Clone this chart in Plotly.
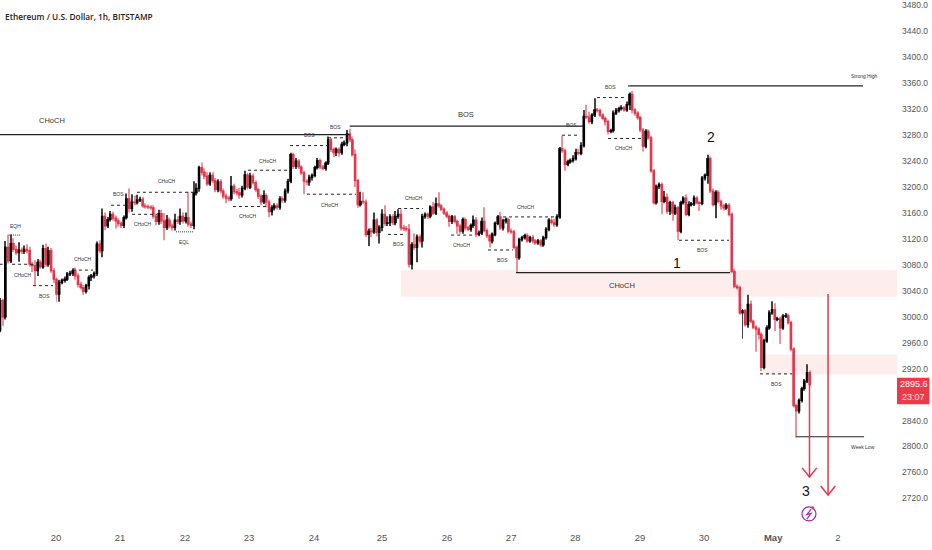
import plotly.graph_objects as go

# hourly closes, first bar opens at 2979
closes = [
    3025, 3000, 3107, 3086, 3113, 3104, 3099, 3103, 3101, 3104,
    3102, 3081, 3079, 3071, 3084, 3077, 3105, 3081, 3102, 3071,
    3058, 3035, 3053, 3056, 3058, 3066, 3067, 3071, 3063, 3050,
    3045, 3039, 3048, 3061, 3063, 3067, 3112, 3102, 3155, 3140,
    3150, 3158, 3152, 3148, 3144, 3141, 3153, 3182, 3167, 3177,
    3176, 3180, 3181, 3171, 3170, 3169, 3168, 3155, 3147, 3159,
    3148, 3138, 3149, 3140, 3138, 3149, 3147, 3155, 3148, 3153,
    3143, 3141, 3191, 3198, 3230, 3223, 3217, 3205, 3218, 3210,
    3196, 3208, 3194, 3186, 3183, 3182, 3201, 3193, 3191, 3188,
    3198, 3219, 3200, 3217, 3207, 3196, 3186, 3177, 3187, 3177,
    3162, 3168, 3171, 3169, 3182, 3180, 3194, 3209, 3250, 3232,
    3240, 3231, 3222, 3209, 3208, 3215, 3218, 3230, 3241, 3231,
    3229, 3237, 3273, 3258, 3253, 3258, 3253, 3266, 3268, 3282,
    3273, 3250, 3210, 3173, 3178, 3177, 3127, 3132, 3131, 3149,
    3130, 3138, 3158, 3144, 3145, 3154, 3145, 3155, 3158, 3137,
    3136, 3135, 3081, 3111, 3107, 3123, 3117, 3155, 3158, 3155,
    3169, 3160, 3174, 3171, 3166, 3160, 3155, 3147, 3154, 3147,
    3140, 3132, 3150, 3137, 3135, 3141, 3149, 3127, 3129, 3147,
    3133, 3125, 3117, 3127, 3144, 3154, 3137, 3148, 3150, 3132,
    3131, 3107, 3091, 3119, 3122, 3125, 3117, 3122, 3117, 3114,
    3117, 3111, 3122, 3135, 3149, 3145, 3142, 3154, 3259, 3256,
    3235, 3239, 3241, 3244, 3253, 3252, 3264, 3309, 3308, 3301,
    3311, 3319, 3318, 3311, 3306, 3301, 3286, 3287, 3314, 3318,
    3321, 3322, 3319, 3327, 3343, 3319, 3314, 3307, 3288, 3263,
    3286, 3276, 3225, 3176, 3201, 3204, 3178, 3184, 3163, 3176,
    3160, 3168, 3132, 3176, 3183, 3158, 3173, 3174, 3183, 3176,
    3175, 3214, 3218, 3244, 3194, 3173, 3192, 3178, 3171, 3168,
    3172, 3158, 3070, 3047, 3045, 3006, 3009, 2988, 3019, 2993,
    2984, 2981, 2973, 2922, 2963, 2983, 3006, 3011, 2996, 2997,
    2983, 3001, 3002, 2991, 2950, 2863, 2855, 2871, 2889, 2901,
    2914, 2895.6,
]
upper_wick = [
    4, 3, 10, 20, 14, 8, 6, 12, 4, 6,
    8, 6, 4, 8, 5, 4, 6, 8, 6, 4,
    4, 3, 4, 3, 4, 3, 4, 4, 5, 4,
    4, 4, 3, 3, 3, 3, 4, 6, 12, 6,
    4, 5, 4, 4, 4, 3, 3, 8, 16, 12,
    10, 8, 4, 4, 4, 3, 3, 4, 4, 6,
    6, 12, 8, 4, 4, 10, 6, 12, 6, 8,
    40, 4, 18, 8, 3, 8, 6, 6, 5, 5,
    4, 4, 4, 4, 4, 4, 16, 4, 4, 8,
    4, 6, 3, 5, 4, 3, 3, 3, 8, 3,
    4, 4, 4, 4, 4, 4, 4, 4, 3, 3,
    5, 3, 3, 3, 3, 4, 3, 3, 4, 3,
    3, 3, 5, 3, 3, 3, 3, 4, 4, 6,
    8, 5, 8, 3, 15, 14, 4, 4, 5, 12,
    3, 3, 8, 14, 10, 4, 4, 8, 8, 8,
    5, 4, 8, 4, 18, 4, 4, 4, 3, 3,
    3, 8, 10, 18, 3, 3, 3, 3, 3, 3,
    3, 3, 3, 3, 3, 3, 7, 5, 4, 6,
    22, 3, 3, 3, 3, 3, 8, 3, 3, 3,
    4, 3, 3, 3, 3, 3, 4, 3, 4, 3,
    3, 3, 3, 3, 3, 6, 6, 4, 3, 20,
    3, 3, 3, 5, 6, 6, 5, 10, 18, 8,
    3, 18, 3, 3, 3, 3, 3, 3, 4, 4,
    3, 4, 3, 5, 3, 5, 3, 3, 3, 3,
    3, 3, 3, 3, 3, 3, 3, 10, 6, 3,
    3, 5, 3, 3, 3, 6, 5, 3, 4, 3,
    3, 3, 3, 6, 3, 4, 3, 3, 3, 3,
    3, 3, 3, 4, 3, 3, 3, 3, 15, 6,
    3, 3, 3, 3, 3, 4, 4, 13, 10, 3,
    3, 3, 4, 3, 3, 3, 3, 3, 3, 3,
    13, 3,
]
lower_wick = [
    3, 14, 4, 4, 3, 4, 4, 14, 4, 4,
    4, 4, 10, 23, 8, 3, 3, 4, 4, 3,
    6, 12, 12, 3, 3, 3, 3, 4, 6, 5,
    3, 5, 3, 6, 6, 4, 4, 4, 10, 6,
    3, 3, 4, 12, 5, 4, 4, 3, 6, 5,
    4, 3, 3, 3, 3, 3, 3, 4, 6, 5,
    5, 20, 4, 4, 5, 5, 4, 5, 4, 4,
    4, 4, 6, 4, 5, 5, 5, 3, 3, 4,
    4, 4, 4, 4, 8, 4, 3, 4, 4, 6,
    4, 3, 4, 3, 3, 4, 4, 5, 3, 8,
    8, 6, 4, 4, 4, 4, 4, 4, 3, 4,
    4, 3, 3, 20, 5, 6, 5, 3, 3, 3,
    3, 4, 3, 4, 7, 5, 6, 3, 3, 5,
    4, 3, 10, 5, 3, 3, 4, 18, 8, 3,
    6, 17, 6, 4, 4, 5, 4, 4, 4, 4,
    4, 4, 5, 8, 4, 23, 4, 10, 4, 4,
    3, 3, 3, 3, 3, 3, 3, 8, 4, 3,
    12, 4, 4, 4, 3, 4, 4, 4, 3, 3,
    3, 4, 10, 4, 3, 3, 3, 4, 4, 3,
    3, 3, 22, 3, 3, 3, 3, 3, 4, 3,
    3, 3, 3, 3, 3, 3, 3, 3, 3, 3,
    10, 3, 3, 3, 3, 3, 3, 3, 3, 3,
    4, 3, 3, 3, 3, 6, 5, 3, 3, 3,
    3, 3, 3, 3, 8, 5, 4, 3, 3, 8,
    3, 3, 3, 3, 3, 4, 20, 3, 4, 6,
    12, 3, 14, 3, 3, 3, 3, 3, 3, 3,
    12, 3, 4, 13, 3, 3, 21, 3, 6, 4,
    3, 3, 3, 3, 3, 3, 40, 3, 5, 3,
    3, 35, 8, 6, 3, 3, 3, 3, 18, 3,
    25, 3, 3, 3, 3, 3, 41, 4, 3, 3,
    3, 3,
]

price_ticks = [3480, 3440, 3400, 3360, 3320, 3280, 3240, 3200, 3160, 3120, 3080,
               3040, 3000, 2960, 2920, 2840, 2800, 2760, 2720]
date_labels = ["20", "21", "22", "23", "24", "25", "26", "27", "28", "29", "30", "<b>May</b>", "2"]
date_bars = [20.8, 44.6, 68.8, 92.6, 116.7, 142, 166.2, 190, 213.8, 237.9, 261.7, 287.4, 311.5]

# structure levels: bar from, bar to, price
solid_levels = [(0, 130, 3281), (130, 216.7, 3294), (233.5, 320.8, 3356), (191.8, 271.4, 3068), (295.9, 321.2, 2815)]
dashed_levels = [
    (0, 1, 3081), (4.5, 12.3, 3081), (12.3, 19.7, 3048), (27.1, 34.6, 3072), (41.3, 46.8, 3172),
    (50.9, 72.5, 3192), (49.1, 58.4, 3158), (92.2, 107, 3226), (86.6, 99.3, 3170), (107.8, 121.9, 3264),
    (121.9, 129.4, 3276), (114.1, 132.3, 3189), (148, 157.2, 3167), (144.2, 150.6, 3127), (167.7, 175.8, 3126),
    (187, 207, 3154), (181.4, 190.7, 3103), (208.9, 215.6, 3280), (221.9, 233.1, 3338), (226, 239, 3275),
    (252.4, 271, 3118), (282.5, 294.4, 2912),
]
dotted_levels = [(3.3, 7.8, 3126), (65.4, 71.7, 3131)]
zones = [(149, 333.5, 3031, 3072), (283.6, 333.5, 2911, 2942)]

small_labels = [
    (5.6, 3140, "EQH"), (8.6, 3065, "CHoCH"), (16.4, 3032, "BOS"), (30.9, 3089, "CHoCH"), (44.2, 3189, "BOS"),
    (53.2, 3143, "CHoCH"), (62.1, 3209, "CHoCH"), (68.4, 3115, "EQL"), (114.9, 3281, "BOS"), (124.7, 3292, "BOS"),
    (99.6, 3241, "CHoCH"), (92.2, 3155, "CHoCH"), (122.7, 3172, "CHoCH"), (153.9, 3183, "CHoCH"), (148, 3112, "BOS"),
    (171.7, 3111, "CHoCH"), (195.5, 3170, "CHoCH"), (186.6, 3087, "BOS"), (212.3, 3295, "BOS"), (227.1, 3354, "BOS"),
    (232, 3260, "CHoCH"), (261.3, 3103, "BOS"), (288.5, 2896, "BOS"), (321.2, 3372, "Strong High"), (320.8, 2799, "Week Low"),
]
mid_labels = [(19.3, 3303, "CHoCH"), (173.2, 3312, "BOS"), (231.2, 3048, "CHoCH")]
wave_labels = [(251.7, 3083, "1"), (264.3, 3278, "2"), (299.6, 2731, "3")]
arrows = [(300.9, 2912, 2753), (307.8, 3035, 2725)]

RED = "#e8344a"
FONT = "Liberation Sans, Arial, sans-serif"

opens = [2979] + closes[:-1]
tops = [max(o, c) for o, c in zip(opens, closes)]
bottoms = [min(o, c) for o, c in zip(opens, closes)]
bars = list(range(len(closes)))
lows = [b - w for b, w in zip(bottoms, lower_wick)]
highs = [t + w for t, w in zip(tops, upper_wick)]
wick_colors = ["#444444" if c >= o else "#f0909b" for o, c in zip(opens, closes)]

fig = go.Figure()
# wicks as thin bars, bars sit under the candle bodies
fig.add_trace(go.Bar(
    x=bars, y=[h - l for h, l in zip(highs, lows)], base=lows, width=0.37,
    marker=dict(color=wick_colors, line_width=0), hoverinfo="skip",
))
fig.add_trace(go.Candlestick(
    x=bars, open=opens, high=tops, low=bottoms, close=closes, whiskerwidth=0,
    increasing=dict(line=dict(color="#000000", width=1.2), fillcolor="#000000"),
    decreasing=dict(line=dict(color=RED, width=1.2), fillcolor=RED),
    hoverinfo="skip",
))

for x0, x1, y0, y1 in zones:
    fig.add_shape(type="rect", x0=x0, x1=x1, y0=y0, y1=y1, fillcolor="#fdeded", line_width=0, layer="below")
for x0, x1, y in solid_levels:
    fig.add_shape(type="line", x0=x0, x1=x1, y0=y, y1=y, line=dict(color="#222222", width=1.2))
for x0, x1, y in dashed_levels:
    fig.add_shape(type="line", x0=x0, x1=x1, y0=y, y1=y, line=dict(color="#222222", width=1, dash="3px,3px"))
for x0, x1, y in dotted_levels:
    fig.add_shape(type="line", x0=x0, x1=x1, y0=y, y1=y, line=dict(color="#333333", width=1, dash="1px,1px"))

for x, y0, y1 in arrows:
    fig.add_shape(type="line", x0=x, x1=x, y0=y0, y1=y1, line=dict(color=RED, width=1.5))
    fig.add_shape(type="path", path=f"M {x - 2.7} {y1 + 14} L {x} {y1} L {x + 2.7} {y1 + 14}",
                  line=dict(color=RED, width=1.5))

# last price tag on the axis
fig.add_shape(type="rect", xref="paper", x0=897 / 898, x1=929.5 / 898, y0=2865, y1=2906, fillcolor="#eb3b4a", line_width=0)
fig.add_annotation(xref="paper", x=1, xshift=15.5, xanchor="center", y=2896, text="2895.6", showarrow=False,
                   font=dict(family=FONT, size=9, color="white"))
fig.add_annotation(xref="paper", x=1, xshift=15.5, xanchor="center", y=2876, text="23:07", showarrow=False,
                   font=dict(family=FONT, size=9, color="#fde0e3"))

# flash icon under the last bar
fig.add_shape(type="circle", x0=298.1, x1=303.3, y0=2685.3, y1=2706.8, line=dict(color="#9c27b0", width=1.2))
fig.add_shape(type="path", path="M 301.5 2703 L 299.9 2695 L 301.5 2697 L 299.9 2688", line=dict(color="#9c27b0", width=1.2))
fig.add_shape(type="circle", x0=301.6, x1=302.7, y0=2703, y1=2708, fillcolor="#f23645", line_width=0)

for x, y, text in small_labels:
    fig.add_annotation(x=x, y=y, text=text, showarrow=False, font=dict(family=FONT, size=5, color="#333333"))
for x, y, text in mid_labels:
    fig.add_annotation(x=x, y=y, text=text, showarrow=False, font=dict(family=FONT, size=7.5, color="#333333"))
for x, y, text in wave_labels:
    fig.add_annotation(x=x, y=y, text=text, showarrow=False, font=dict(family=FONT, size=14, color="#111111"))

fig.add_annotation(xref="paper", yref="paper", x=5 / 898, y=1 - 15 / 526, xanchor="left", yanchor="middle",
                   text="Ethereum / U.S. Dollar, 1h, BITSTAMP", showarrow=False, xshift=-2,
                   font=dict(family="Open Sans, sans-serif", size=8.3, weight=600, color="#222222"))

fig.update_layout(
    width=932, height=550, autosize=False, showlegend=False,
    margin=dict(l=0, r=34, t=0, b=24, pad=0),
    paper_bgcolor="white", plot_bgcolor="white", boxgap=0.25,
)
fig.update_xaxes(range=[0, 333.8], rangeslider_visible=False, showgrid=False, zeroline=False,
                 tickmode="array", tickvals=date_bars, ticktext=date_labels, ticks="",
                 ticklabelstandoff=4, ticklabeloverflow="allow",
                 tickfont=dict(family=FONT, size=9.5, color="#555555"))
fig.update_yaxes(range=[2677.4, 3485.4], side="right", showgrid=False, zeroline=False,
                 tickmode="array", tickvals=price_ticks, tickformat=".1f", ticks="",
                 ticklabelstandoff=3, ticklabeloverflow="allow",
                 tickfont=dict(family=FONT, size=8.5, color="#555555"))

# the page's default body margin would push the chart off the window
fig.write_html("out.html", config={"displayModeBar": False}, post_script="document.body.style.margin = '0';")
